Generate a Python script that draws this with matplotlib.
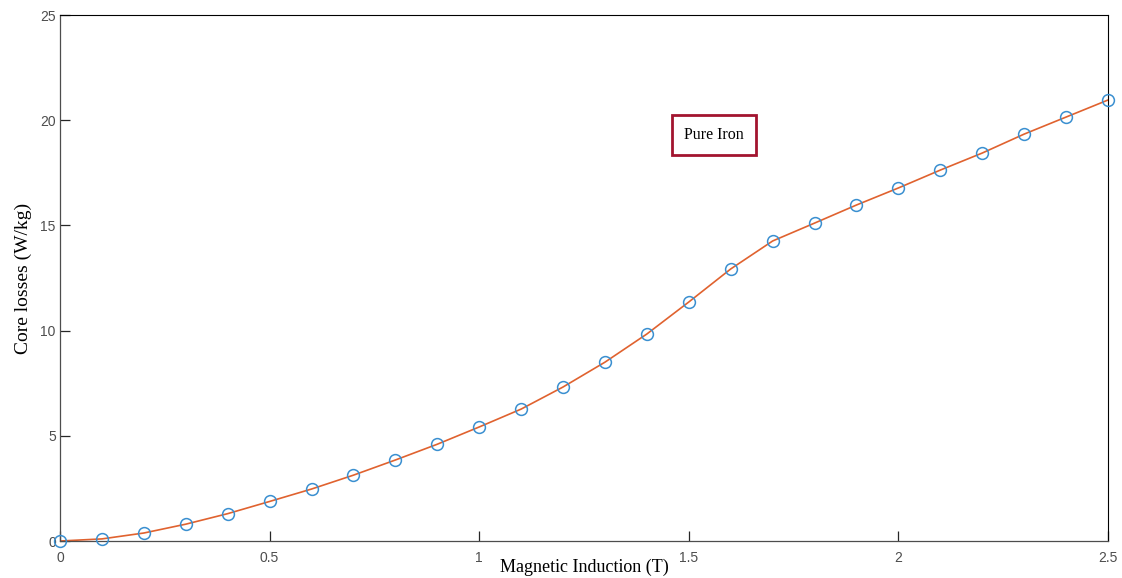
import matplotlib.pyplot as plt
import numpy as np

# Core losses of pure iron vs magnetic induction
induction = [0.0, 0.1, 0.2, 0.3, 0.4, 0.5, 0.6, 0.7, 0.8, 0.9, 1.0, 1.1, 1.2,
             1.3, 1.4, 1.5, 1.6, 1.7, 1.8, 1.9, 2.0, 2.1, 2.2, 2.3, 2.4, 2.5]
losses = [0.0, 0.1, 0.38, 0.8, 1.3, 1.88, 2.47, 3.13, 3.85, 4.6, 5.42, 6.27, 7.32,
          8.5, 9.84, 11.36, 12.93, 14.26, 15.11, 15.97, 16.78, 17.63, 18.44, 19.34,
          20.15, 20.96]
xticks = [0, 0.5, 1, 1.5, 2, 2.5]
xtick_labels = ['0', '0.5', '1', '1.5', '2', '2.5']
yticks = [0, 5, 10, 15, 20, 25]

fig = plt.figure(figsize=(11.22, 5.78), dpi=100)
ax = fig.add_axes([0.0535, 0.064, 0.934, 0.91])

ax.plot(induction, losses, color='#E0622F', linewidth=1.2, zorder=2)
ax.plot(induction, losses, linestyle='none', marker='o', markersize=8.5,
        markerfacecolor='none', markeredgecolor='#3A8FD0', markeredgewidth=1.1,
        zorder=3, clip_on=False)

ax.set_xlim(0, 2.5)
ax.set_ylim(0, 25)
ax.set_xticks(xticks)
ax.set_xticklabels(xtick_labels)
ax.set_yticks(yticks)

ax.tick_params(direction='in', length=7, width=0.9, colors='#262626',
               labelcolor='#4D4D4D', labelsize=10)
for lab in ax.get_xticklabels() + ax.get_yticklabels():
    lab.set_family('Liberation Sans')
ax.tick_params(axis='x', pad=7)
ax.tick_params(axis='y', pad=3)

for side in ['left', 'bottom']:
    ax.spines[side].set_color('#4D4D4D')
    ax.spines[side].set_linewidth(0.9)
for side in ['top', 'right']:
    ax.spines[side].set_color('black')
    ax.spines[side].set_linewidth(0.8)

ax.set_xlabel('Magnetic Induction (T)', family='Liberation Serif', fontsize=13,
              labelpad=-4)
ax.set_ylabel('Core losses (W/kg)', family='Liberation Serif', fontsize=14,
              labelpad=6)

ax.text(1.56, 19.3, 'Pure Iron', family='Liberation Serif', fontsize=11.5,
        ha='center', va='center',
        bbox=dict(boxstyle='square,pad=0.75', facecolor='white',
                  edgecolor='#A2142F', linewidth=2))

fig.savefig('out.png', dpi=100)
